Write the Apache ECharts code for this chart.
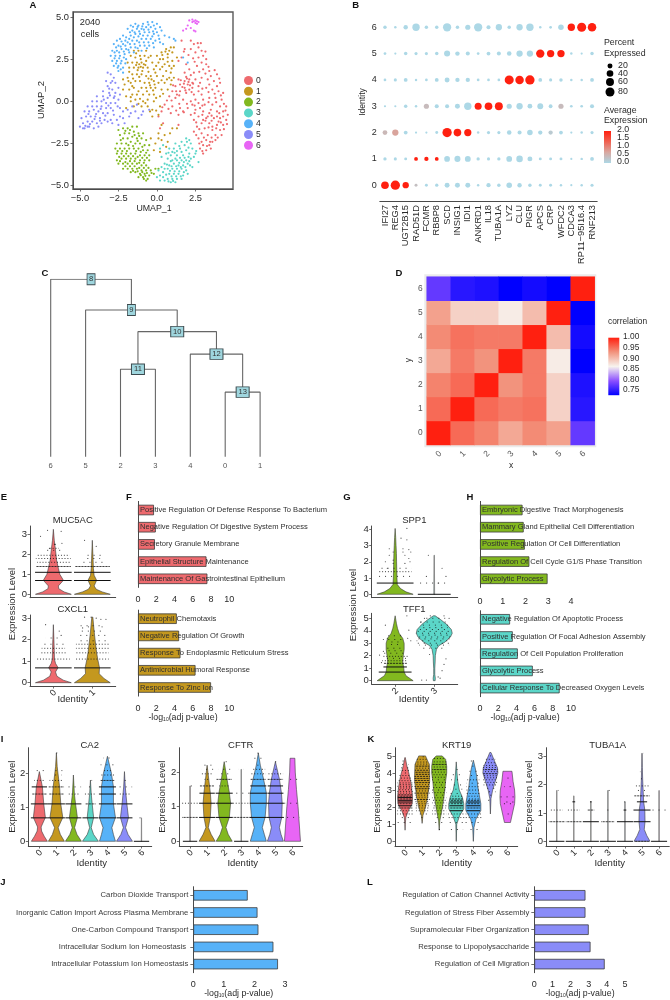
<!DOCTYPE html>
<html><head><meta charset="utf-8">
<style>html,body{margin:0;padding:0;background:#fff}#c{width:670px;height:1000px}</style>
<script src="https://cdn.jsdelivr.net/npm/echarts@6/dist/echarts.min.js"></script>
</head><body><div id="c"></div>
<script>
// ---------- palette
const clusterColors=['#ee6a6e','#c4981f','#82b81f','#5bd6c8','#57b2f8','#8a8cf8','#e865f5'];
// ---------- Panel A: UMAP (values read by eye)
const umap0=[[1.6,3.6],[2.2,3.6],[2.4,3.4],[2.7,3.2],[2.9,3.0],[2.5,2.9],[3.0,2.7],[2.7,2.6],[3.2,2.5],[2.9,2.3],[3.2,2.2],[2.6,2.1],[3.0,1.9],[1.6,2.6],[1.4,2.4],[1.9,2.2],[2.1,1.9],[2.4,1.7],[1.8,1.7],[3.5,1.5],[3.9,1.6],[3.3,1.3],[3.7,1.2],[4.1,1.1],[2.9,1.4],[2.5,1.3],[2.1,1.3],[1.8,1.2],[2.0,1.0],[1.5,1.0],[1.2,0.9],[2.3,0.8],[2.7,0.9],[3.2,0.8],[3.6,0.7],[4.0,0.6],[4.3,0.5],[1.0,0.6],[1.5,0.6],[1.9,0.5],[2.4,0.4],[2.9,0.4],[3.4,0.2],[3.8,0.2],[4.2,0.1],[0.8,0.3],[1.2,0.2],[1.7,0.1],[2.2,0],[2.7,-0.1],[3.1,-0.2],[3.6,-0.2],[4.1,-0.3],[4.5,-0.3],[0.5,-0.2],[1.0,-0.3],[1.5,-0.4],[2.0,-0.4],[2.5,-0.5],[3.0,-0.6],[3.4,-0.7],[3.9,-0.6],[4.3,-0.6],[4.6,-0.8],[0.3,-0.6],[0.9,-0.7],[1.4,-0.8],[2.2,-0.8],[2.7,-0.9],[3.2,-1],[3.7,-1],[4.1,-1.0],[4.5,-1.1],[0.1,-0.9],[2.4,-1.1],[2.9,-1.3],[3.4,-1.3],[3.9,-1.4],[4.3,-1.4],[1.4,-1.4],[2.6,-1.5],[3.1,-1.6],[3.6,-1.7],[4.1,-1.7],[2.4,-1.8],[2.9,-1.9],[3.3,-2],[3.8,-2],[4.2,-2],[2.7,-2.2],[3.2,-2.3],[3.6,-2.4],[3.0,-2.6],[3.4,-2.6],[3.8,-2.3],[2.8,-2.8],[3.2,-2.9],[3.5,-2.8],[3.0,-3.1],[0.4,-1.3],[0.2,-1.6],[2.2,3.1],[1.8,3.1],[3.4,1.8],[2.2,1.55],[2.8,1.1],[3.4,1.0],[1.4,1.3],[2.1,0.7],[3.0,0.1],[3.5,-0.5],[2.3,-0.2],[1.7,-0.6],[2.8,-0.4],[3.9,-0.9],[3.0,-1.1],[3.6,-1.5],[2.9,-2.4],[4.0,-1.2],[4.3,-0.9],[3.3,-0.9],[2.5,0.1],[1.3,0.4],[2.7,0.6],[3.9,0.9],[1.8,0.8],[1.9,1.45],[2.3,1.1],
[1.75,2.95],[2.05,2.75],[2.35,2.55],[2.85,3.45],[3.15,2.95],[3.35,2.05],[2.75,1.75],[3.15,1.65],[3.75,1.85],[4.05,1.35],[2.35,1.05],[1.65,0.85],[1.85,0.65],[1.55,1.25],[2.05,1.15],[2.15,0.95],[1.75,1.05],[1.95,1.35],[2.25,0.55],[1.45,0.35],[1.05,0.95],[2.95,0.75],[3.35,0.55],[3.75,0.45],[4.15,0.35],[0.95,0.05],[1.45,-0.15],[1.95,-0.15],[2.45,-0.25],[2.95,-0.25],[3.35,-0.05],[3.85,-0.05],[4.35,-0.15],[0.75,-0.45],[1.25,-0.55],[1.75,-0.65],[2.45,-0.7],[2.95,-0.8],[3.55,-0.85],[4.05,-0.7],[4.45,-0.55],[2.55,-1.25],[3.15,-1.15],[3.55,-1.15],[4.15,-1.25],[4.55,-1.35],[2.75,-1.65],[3.35,-1.55],[3.85,-1.6],[4.35,-1.65],[2.55,-2],[3.05,-2.15],[3.55,-2.15],[3.95,-2.15],[2.95,-2.95],[3.25,-2.65],[3.45,-2.4],[2.75,-2.5],[0.65,0.05],[0.35,-0.35],[2.65,3.45],[2.45,2.35],[1.25,0.6]];
const umap1=[[-1.5,3],[-1.2,3],[-0.7,3],[0.6,3.1],[0.9,3.2],[1.1,3.2],[0.3,2.9],[0.7,2.8],[1,2.9],[-1.7,2.7],[-1.4,2.6],[-1.1,2.7],[-0.8,2.7],[-0.4,2.7],[0,2.7],[0.4,2.5],[0.7,2.6],[1,2.4],[1.3,2.6],[-1.9,2.3],[-1.6,2.3],[-1.3,2.3],[-1,2.3],[-0.7,2.4],[-0.3,2.3],[0.1,2.3],[0.5,2.2],[0.8,2.1],[1.1,2.1],[-1.8,2],[-1.5,2],[-1.2,2],[-0.9,2],[-0.6,2],[-0.2,1.9],[0.2,1.9],[0.6,1.8],[0.9,1.7],[-2.2,1.3],[-1.9,1.4],[-1.6,1.6],[-1.3,1.6],[-1,1.6],[-0.7,1.5],[-0.4,1.5],[0,1.5],[0.4,1.5],[0.8,1.4],[1.1,1.4],[-2.1,1],[-1.7,1.1],[-1.4,1.2],[-1.1,1.2],[-0.8,1.1],[-0.5,1.1],[-0.2,1.2],[0.1,1.1],[0.5,1.1],[0.9,1],[-2.2,0.7],[-1.8,0.7],[-1.5,0.8],[-1,0.8],[-0.7,0.8],[-0.4,0.8],[-0.1,0.8],[0.3,0.7],[0.7,0.7],[-2,0.3],[-1.6,0.4],[-1.3,0.4],[-0.9,0.4],[-0.5,0.4],[-0.2,0.4],[0.2,0.3],[-1.7,0],[-1.4,0.1],[-0.9,0],[-0.6,0.1],[-0.2,0],[-2,-0.4],[-1.5,-0.3],[-1,-0.3],[-0.6,-0.3],[-0.3,-0.5],[-0.3,-0.9],[0.1,-0.8],[0.3,-1.4],[0.1,-1.9],[0.5,-2],[1,-1.6],[1.3,-1.6],[0.3,-2.3],[0.7,-2.4],[-0.2,-2.9],[0.2,-3],[-0.1,-2.5],
[-1.35,2.15],[-1.15,2.2],[-1.05,2.05],[-0.85,2.2],[-0.75,2.15],[-1.25,1.85],[-0.95,1.8],[-0.55,1.75],[-0.35,1.3],[-0.55,1.35],[-0.15,1.0],[-0.45,0.95],[-0.25,0.65],[-0.65,0.6],[-1.15,1.45],[-1.55,1.35],[-1.8,1.75],[-0.1,1.7],[0.3,1.25],[0.65,1.3],[0.95,1.25],[0.35,2.75],[0.55,2.95],[0.8,3],[0.2,2.5],[-0.05,2.1],[0.35,2.05],[0.7,2.35],[0.95,1.95],[-1.35,2.85],[-1.05,2.5],[-0.55,2.6],[-1.85,1.2],[-1.6,0.9],[-1.2,0.6],[-1.7,0.25],[-1.1,0.15],[-0.75,-0.1],[-0.05,0.2],[0.4,0.45],[-1.2,-0.15],[-0.45,-0.6],[-0.05,-0.55],[0.2,-0.3],[0.85,-1.9],[0.6,-2.7],[0.1,-2.2],[-0.4,-2.2]];
const umap2=[[-2.5,-1.7],[-2.2,-1.6],[-1.9,-1.6],[-1.6,-1.5],[-1.3,-1.5],[-2.4,-2],[-2.1,-1.9],[-1.8,-1.9],[-1.5,-1.8],[-1.2,-1.9],[-0.9,-1.9],[-2.2,-2.2],[-1.9,-2.2],[-1.6,-2.1],[-1.3,-2.2],[-1,-2.2],[-0.7,-2.3],[-2.6,-2.5],[-2.3,-2.5],[-2,-2.5],[-1.7,-2.4],[-1.4,-2.5],[-1.1,-2.5],[-0.8,-2.6],[-0.5,-2.6],[-2.7,-2.8],[-2.4,-2.8],[-2.1,-2.8],[-1.8,-2.8],[-1.5,-2.8],[-1.2,-2.8],[-0.9,-2.9],[-0.6,-2.9],[-2.6,-3.1],[-2.3,-3.1],[-2,-3.1],[-1.7,-3.1],[-1.4,-3.1],[-1.1,-3.2],[-0.8,-3.2],[-0.5,-3.2],[-2.6,-3.5],[-2.3,-3.4],[-2,-3.4],[-1.7,-3.4],[-1.4,-3.4],[-1.1,-3.5],[-0.8,-3.5],[-0.5,-3.5],[-2.5,-3.7],[-2.2,-3.7],[-1.9,-3.7],[-1.6,-3.7],[-1.3,-3.7],[-1,-3.8],[-0.7,-3.8],[-2.2,-4],[-1.9,-4],[-1.6,-4],[-1.3,-4],[-1,-4.1],[-0.7,-4.1],[-0.4,-4.1],[-0.1,-4],[-1.7,-4.2],[-1.4,-4.2],[-1.1,-4.3],[-0.8,-4.3],[-0.5,-4.4],[-0.2,-4.3],[0.1,-4],[-1.2,-4.5],[-0.9,-4.5],[-0.6,-4.6],[-0.7,-4.7],
[-2.05,-1.75],[-1.75,-1.7],[-1.45,-2],[-1.15,-2.05],[-2.35,-2.3],[-1.85,-2.6],[-1.55,-2.65],[-1.25,-2.35],[-0.95,-2.7],[-2.55,-2.95],[-2.25,-2.95],[-1.95,-2.95],[-1.35,-2.95],[-1.05,-3],[-0.7,-3.05],[-2.45,-3.3],[-2.15,-3.25],[-1.85,-3.25],[-1.55,-3.25],[-1.25,-3.3],[-0.95,-3.35],[-0.65,-3.35],[-2.4,-3.55],[-2.05,-3.6],[-1.75,-3.55],[-1.45,-3.55],[-1.15,-3.65],[-0.85,-3.65],[-2.05,-3.85],[-1.75,-3.85],[-1.45,-3.85],[-1.15,-3.95],[-0.85,-3.95],[-0.55,-3.95],[-1.55,-4.12],[-1.25,-4.15],[-0.95,-4.2],[-0.65,-4.25],[-0.35,-4.25],[-1.05,-4.38],[-0.75,-4.42],[-0.85,-4.6]];
const umap3=[[1.9,-2.2],[2.1,-2.3],[1.6,-2.4],[1.2,-2.5],[1.8,-2.6],[2.2,-2.5],[0.8,-2.8],[1.1,-2.8],[1.5,-2.8],[1.9,-2.9],[2.3,-2.8],[0.2,-2.8],[0.6,-3.1],[0.9,-3.2],[1.3,-3.2],[1.7,-3.2],[2.1,-3.1],[2.5,-3.1],[0.7,-3.4],[1,-3.5],[1.3,-3.5],[1.6,-3.5],[1.9,-3.5],[2.2,-3.4],[0.5,-3.7],[0.8,-3.8],[1.1,-3.7],[1.4,-3.8],[1.7,-3.8],[2,-3.7],[2.7,-3.6],[0.3,-3.9],[0.7,-4],[1,-4],[1.3,-4],[1.6,-4],[1.9,-4.1],[2.3,-3.9],[0.1,-4.1],[0.4,-4.2],[0.8,-4.3],[1.1,-4.3],[1.4,-4.3],[1.7,-4.4],[2,-4.3],[0,-4.5],[0.4,-4.5],[0.7,-4.6],[1,-4.6],[1.3,-4.6],[1.6,-4.6],[0.2,-4.7],[0.9,-4.8],[1.2,-4.8],[0.5,-4.7],[1,-3],[1.6,-3],[0.3,-3.3],[0.4,-2.6],
[1.45,-2.65],[1.95,-2.4],[2.05,-2.75],[1.3,-2.95],[0.75,-3.05],[1.15,-3.05],[1.5,-3.35],[1.8,-3.35],[2.05,-3.3],[1.2,-3.4],[0.9,-3.55],[1.45,-3.65],[1.75,-3.6],[2.1,-3.55],[0.65,-3.75],[0.95,-3.85],[1.25,-3.85],[1.55,-3.9],[1.85,-3.9],[2.15,-3.8],[0.5,-4],[0.85,-4.12],[1.15,-4.15],[1.45,-4.15],[1.75,-4.2],[0.6,-4.35],[0.95,-4.45],[1.25,-4.45],[1.55,-4.45],[0.2,-4.4],[0.75,-4.75],[1.05,-4.72],[2.4,-3.3],[2.55,-2.95]];
const umap4=[[-1.7,4.5],[-1.4,4.6],[-1.2,4.5],[-0.9,4.6],[-0.6,4.7],[-0.3,4.7],[0,4.6],[0.2,4.4],[-1.9,4.3],[-1.6,4.2],[-1.3,4.3],[-1,4.3],[-0.7,4.4],[-0.4,4.4],[-0.1,4.3],[0.3,4.2],[0.5,3.9],[0.8,3.8],[1.1,3.7],[-2.6,3.6],[-2.2,3.9],[-2.4,3.7],[-2,3.8],[-1.7,3.9],[-1.4,4],[-1.1,4],[-0.8,4.1],[-0.5,4.1],[-0.2,4],[0.1,3.9],[-2.8,3.4],[-2.5,3.3],[-2.2,3.4],[-1.9,3.5],[-1.6,3.6],[-1.3,3.6],[-1,3.7],[-0.7,3.7],[-0.4,3.7],[-0.1,3.6],[0.2,3.5],[0.4,3.4],[-2.9,3],[-2.6,3],[-2.3,3.1],[-2,3.1],[-1.7,3.2],[-1.4,3.2],[-1.1,3.3],[-0.8,3.3],[-0.5,3.3],[-0.2,3.2],[-3,2.7],[-2.7,2.7],[-2.4,2.7],[-2.1,2.8],[-1.8,2.9],[-1.5,2.9],[-1,3],[-2.9,2.4],[-2.6,2.4],[-2.3,2.4],[-2,2.5],[-2.8,2.1],[-2.5,2.1],[-2.2,2],[-2.5,1.8],[-2.2,1.7],[1.7,2.6],[2,2.3],[1.2,3.6],
[-1.55,4.42],[-1.25,4.42],[-0.95,4.45],[-0.55,4.55],[-0.2,4.5],[-1.75,4.1],[-1.45,4.1],[-1.15,4.15],[-0.85,4.25],[-0.55,4.25],[-0.25,4.15],[0,4.1],[-2.3,3.55],[-2.05,3.6],[-1.8,3.7],[-1.5,3.8],[-1.2,3.85],[-0.9,3.9],[-0.6,3.9],[-0.3,3.85],[0.15,3.7],[-2.65,3.2],[-2.35,3.25],[-2.05,3.3],[-1.75,3.4],[-1.45,3.4],[-1.15,3.5],[-0.85,3.5],[-0.55,3.5],[-0.25,3.45],[-2.75,2.9],[-2.45,2.9],[-2.15,2.95],[-1.85,3.05],[-1.25,3.15],[-0.65,3.15],[-2.75,2.55],[-2.45,2.55],[-2.15,2.6],[-2.65,2.25],[-2.35,2.25],[-2.05,2.25],[-2.35,1.9],[-2.55,2.0]];
const umap5=[[-3.2,1.7],[-3,1.6],[-2.8,1.4],[-3.3,1.2],[-3,1.1],[-2.7,1.1],[-3.2,0.9],[-2.9,0.7],[-2.5,0.8],[-3.5,0.6],[-3.1,0.5],[-2.7,0.5],[-2.4,0.4],[-3.9,0.3],[-3.5,0.3],[-3.2,0.2],[-2.8,0.2],[-2.5,0.1],[-4.2,0],[-3.9,0],[-3.6,0],[-3.3,-0.1],[-3,-0.1],[-2.7,-0.1],[-4.5,-0.3],[-4.2,-0.3],[-3.9,-0.3],[-3.6,-0.3],[-3.3,-0.4],[-3,-0.4],[-2.4,-0.4],[-1.6,-0.3],[-1.3,-0.2],[-4.7,-0.6],[-4.4,-0.6],[-4.1,-0.5],[-3.8,-0.6],[-3.5,-0.7],[-3.2,-0.7],[-2.8,-0.8],[-2.2,-0.6],[-1.9,-0.5],[-1.4,-0.6],[-0.9,-0.6],[-0.5,-0.5],[-4.9,-1],[-4.6,-0.9],[-4.3,-0.9],[-4,-0.9],[-3.7,-1],[-3.4,-1.1],[-3,-1.1],[-2.6,-1.1],[-2.2,-1],[-1.8,-0.9],[-1.2,-1],[-4.8,-1.3],[-4.5,-1.2],[-4.2,-1.2],[-3.9,-1.3],[-3.6,-1.3],[-2.9,-1.3],[-2.5,-1.4],[-2.1,-1.3],[-5,-1.5],[-4.7,-1.6],[-4.4,-1.5],[-4.1,-1.6],[-3.8,-1.5],[-4.8,-1.6],[-4.5,-1.5],
[-4.35,-1.35],[-4.65,-1.45],[-4.05,-1.05],[-4.45,-0.75],[-3.95,-0.75],[-3.65,-0.45],[-3.35,-0.85],[-3.15,-0.25],[-2.85,-0.55],[-3.45,0.1],[-3.05,0.35],[-2.75,0.3],[-2.55,-0.3],[-3.7,-1.15],[-3.2,-1.2],[-2.4,-0.9],[-1.7,-0.7],[-1.0,-0.8],[-2.9,1.2],[-3.1,0.75]];
const umap6=[[2.1,4.8],[2.3,4.85],[2.5,4.8],[2.6,4.75],[2.7,4.7],[2.5,4.65],[2.6,4.6],[2.4,4.75],[2.3,4.7],[2,4.5],[1.9,4.3],[1.7,4.2],[2.2,4.35],[2.4,4.2],[2.5,4.15]];
const umapTicksX=[-5,-2.5,0,2.5], umapTicksY=[-5,-2.5,0,2.5,5];
// ---------- Panel B: dot plot
const dotGenes=['IFI27','REG4','UGT2B15','RAD51D','FCMR','RBBP8','SCD','INSIG1','IDI1','ANKRD1','IL18','TUBA1A','LYZ','CLU','PIGR','APCS','CRP','WFDC2','CDCA3','RP11\u221295I16.4','RNF213'];
const dotPct0=[55,85,35,5,5,7,20,20,20,3,14,8,26,15,8,5,5,3,2,3,6];
const dotPct1=[7,6,5,10,14,10,28,32,30,7,6,7,28,38,20,5,5,5,2,3,10];
const dotPct2=[18,35,10,2,2,5,85,55,48,3,6,6,16,12,26,14,14,10,2,3,6];
const dotPct3=[2,2,8,3,22,12,12,20,50,45,55,60,22,35,18,30,10,22,4,4,12];
const dotPct4=[4,6,10,3,4,10,20,14,14,4,4,4,80,70,85,10,6,8,3,3,10];
const dotPct5=[4,2,8,6,6,8,32,15,12,4,10,12,16,35,35,67,50,50,3,2,8];
const dotPct6=[8,3,15,50,8,8,65,8,22,65,12,35,8,35,50,3,4,26,50,80,70];
const dotExp0=[2,2,2,.35,0,0,0,0,0,0,0,0,0,0,0,0,0,0,0,0,0];
const dotExp1=[0,0,0,2,2,2,0,0,0,0,0,0,0,0,0,0,0,0,0,0,0];
const dotExp2=[.45,.7,0,0,0,0,2,2,2,0,0,0,0,0,0,0,.2,0,0,0,0];
const dotExp3=[0,0,0,0,.4,0,0,0,0,2,2,2,0,0,0,0,0,.4,0,0,0];
const dotExp4=[0,0,0,0,0,0,0,0,0,0,0,0,2,2,2,0,0,0,0,0,0];
const dotExp5=[0,0,0,0,0,0,0,0,0,0,0,0,0,0,0,2,2,2,0,0,0];
const dotExp6=[0,0,0,0,0,0,0,0,0,0,0,0,0,0,0,0,0,0,2,2,2];
// ---------- Panel C: dendrogram
const treeLeaves=['6','5','2','3','4','0','1'];
const treeMerges=[['13','0','1',.364],['12','4','13',.578],['11','2','3',.493],['10','11','12',.705],['9','5','10',.827],['8','6','9',1]];
// ---------- Panel D: correlation (rows y=0..6)
const corrLabels=['0','1','2','3','4','5','6'];
const corr0=[1,.955,.94,.915,.935,.92,.77];
const corr1=[.955,1,.955,.945,.95,.885,.74];
const corr2=[.94,.955,1,.93,.945,.885,.735];
const corr3=[.915,.945,.93,1,.945,.865,.72];
const corr4=[.935,.95,.945,.945,1,.9,.73];
const corr5=[.92,.885,.885,.865,.9,1,.72];
const corr6=[.77,.74,.735,.72,.73,.72,1];
// ---------- Violins: profile = [level, relative half width]; rows = [level, half width, dash style]
const vMUC5AC=[[[0,1],[.12,.6],[.28,.3],[.42,.28],[.7,.56],[1,.36],[1.3,.28],[1.7,.18],[2.2,.12],[2.7,.05],[3.25,0]],
 [[0,1],[.12,.55],[.25,.22],[.42,.1],[.7,.24],[.95,.1],[1.3,.06],[1.8,.04],[2.7,0]]];
const rMUC5AC=[[[.69,.47,0],[1.1,.47,0],[1.39,.45,1],[1.6,.42,2],[1.79,.45,2],[1.95,.42,2],[2.2,.2,3],[2.3,.14,2],[2.5,.1,3]],
 [[.69,.47,0],[1.1,.47,0],[1.39,.45,1],[1.6,.3,3],[1.79,.2,3],[1.95,.22,3]]];
const dMUC5AC=[[-.15,3.2],[.2,3.15],[-.33,2.9],[.22,2.55],[.05,2.5],[-.1,2.3],[1.1,2.4],[.8,2.7]];
const vCXCL1=[[[0,1],[.12,.55],[.3,.2],[.5,.12],[.7,.26],[.9,.12],[1.1,.06],[1.5,.05],[2,.03],[2.7,0]],
 [[0,1],[.2,.65],[.42,.38],[.7,.4],[1.1,.3],[1.4,.24],[1.8,.18],[2.4,.1],[3.05,.03]]];
const rCXCL1=[[[.69,.47,0],[1.1,.42,2],[1.39,.32,2],[1.6,.3,2],[1.79,.3,3],[2.08,.2,3]],
 [[.69,.47,0],[1.1,.42,2],[1.39,.42,2],[1.6,.42,2],[1.79,.42,2],[1.95,.4,3],[2.2,.35,3],[2.4,.3,3],[2.65,.3,3]]];
const dCXCL1=[[-.2,2.7],[.15,2.4],[.2,2.2],[.8,3.05],[.97,3.05],[1.1,3.0],[1.22,2.95],[1.35,2.95],[1.25,2.6],[.9,2.6],[.75,2.55]];
const vSPP1=[[[0,1],[.15,.6],[.35,.3],[.6,.12],[1,.1],[1.5,.09],[2,.08],[2.5,.07],[3,.05],[3.5,.03],[4.05,0]],
 [[0,.02],[2.4,.01]]];
const rSPP1=[[[.69,.47,0],[1.1,.42,3],[1.39,.42,2],[1.6,.42,3]],[[0,.42,0],[.69,.4,3]]];
const dSPP1=[[2.15,3.45],[2.3,4.05],[2.3,3.35],[2.2,2.8],[2.2,2.6],[2.35,2.75],[1.85,2.4],[1.95,2.6],[1.85,2.8],[2.4,2.6],[2.35,2.2],[1.75,2],[1.95,2.1],[2.25,2.4],[2.38,2],[1.8,1.6],[1.95,1.9],[2.25,1.9],[3.2,1.6],[3.3,1.1],[2.8,1.1],[2.85,2.4],[3.1,.69]];
const vTFF1=[[[0,1],[.15,.85],[.4,.6],[.7,.5],[1,.48],[1.5,.42],[2,.45],[2.5,.5],[3,.5],[3.4,.42],[3.8,.22],[4.2,.13],[4.6,.07],[5.2,0]],
 [[0,.05],[.2,.06],[.5,.03],[1,.03],[1.5,.05],[2,.06],[2.5,.12],[2.8,.25],[3.1,.6],[3.5,.9],[3.8,1],[4.1,.95],[4.5,.7],[4.9,.35],[5.2,.05]]];
const rTFF1=[[[.69,.42,0],[1.1,.3,0],[1.39,.3,1],[1.6,.33,2],[1.79,.28,3],[1.95,.32,2],[2.2,.32,3],[2.4,.2,3],[2.6,.22,3],[2.9,.2,3],[3.1,.18,3],[3.3,.25,3],[3.6,.18,3]],
 [[2.6,.3,3],[2.85,.38,3],[3,.42,3],[3.2,.45,3],[3.35,.43,3],[3.5,.45,3],[3.65,.4,3],[3.8,.45,3],[3.95,.42,3],[4.1,.4,3],[4.25,.35,3],[4.45,.35,3],[4.7,.35,3],[5,.28,3]]];
const dTFF1=[[1.6,2.05],[1.65,1.45],[1.75,4.45],[1.8,3.4],[1.7,3.3],[2.35,4.05],[2.4,3.2],[2.3,5.2],[2.32,3.4],[1.7,2.35],[2.75,5],[2.65,4.7],[3.25,5.2],[2.9,5.2],[3.38,5],[2.68,.05],[2.8,.05],[3.1,.3],[3.2,.8],[3.25,1.3],[3.3,1.75],[2.88,2.1],[3.15,.2]];
const vCA2=[[[0,1],[.15,.6],[.3,.28],[.42,.22],[.7,.75],[1.1,.55],[1.6,.38],[2.05,0]],[[0,1],[.2,.5],[.4,.22],[.7,.8],[1.1,.55],[1.6,.4],[2.2,.1],[2.6,0]],[[0,1],[.2,.45],[.4,.15],[.7,.5],[1.1,.27],[1.4,.12],[1.95,0]],[[0,1],[.2,.4],[.4,.1],[.7,.4],[1.1,.22],[1.4,.1],[1.8,0]],[[0,1],[.2,.75],[.4,.55],[.7,1],[1.1,.75],[1.6,.75],[2,.5],[2.5,0]],[[0,1],[.2,.45],[.4,.14],[.7,.5],[1.1,.3],[1.6,.1],[2.05,0]],[[0,.02],[.69,.01]]];
const rCA2=[[[.69,.5,0],[1.1,.5,0],[1.39,.45,1],[1.6,.45,0],[1.79,.3,2],[1.95,.1,3],[2.08,.45,3]],
 [[.69,.5,0],[1.1,.5,0],[1.39,.45,1],[1.6,.45,1],[1.79,.4,2],[1.95,.3,3],[2.08,.35,3],[2.6,.05,3]],
 [[.69,.47,0],[1.1,.47,0],[1.39,.3,2],[1.6,.45,3],[1.95,.05,3]],
 [[.69,.47,0],[1.1,.3,1],[1.39,.35,2],[1.6,.25,3],[1.79,.1,3]],
 [[.69,.5,0],[1.1,.5,0],[1.39,.5,0],[1.6,.5,0],[1.79,.4,1],[1.95,.4,2],[2.08,.3,2],[2.25,.4,3],[2.45,.25,3]],
 [[.69,.47,0],[1.1,.47,0],[1.39,.3,2],[1.6,.45,3],[1.79,.15,3],[1.95,.05,3]],
 [[0,.45,0],[.69,.2,3]]];
const vCFTR=[[[0,.01],[1.6,.01]],[[0,1],[.2,.5],[.4,.15],[.7,.4],[1.1,.5],[1.4,.4],[1.8,.2],[2.2,0]],[[0,1],[.2,.5],[.4,.22],[.7,.65],[1.1,.8],[1.4,.65],[1.8,.35],[2.3,0]],[[0,.01],[2.08,.01]],[[0,1],[.2,.75],[.4,.5],[.7,.85],[1.1,1],[1.4,1],[1.8,.65],[2.2,.25],[2.55,0]],[[0,1],[.2,.7],[.4,.5],[.7,.8],[1.1,.85],[1.4,.75],[1.8,.5],[2.3,0]],[[0,1],[.5,.85],[1,.7],[1.5,.5],[2,.35],[2.4,.3]]];
const rCFTR=[[[0,.42,0],[.69,.47,1],[1.1,.47,2],[1.6,.12,3]],
 [[.69,.47,0],[1.1,.47,0],[1.39,.45,0],[1.6,.42,1],[1.79,.15,2],[1.95,.35,2],[2.08,.35,3],[2.2,.25,3]],
 [[.69,.5,0],[1.1,.5,0],[1.39,.5,0],[1.6,.3,2],[1.79,.45,1],[1.95,.4,3],[2.08,.35,3],[2.3,.2,3]],
 [[0,.42,0],[.69,.5,1],[1.1,.5,2],[1.39,.5,3],[2.08,.15,3]],
 [[.69,.5,0],[1.1,.5,0],[1.39,.5,0],[1.6,.47,0],[1.79,.45,1],[1.95,.45,2],[2.08,.4,2],[2.2,.15,3],[2.4,.3,3],[2.55,.2,3]],
 [[.69,.5,0],[1.1,.5,0],[1.39,.47,0],[1.6,.45,0],[1.79,.45,1],[1.95,.45,2],[2.08,.3,3],[2.3,.3,3]],
 [[.69,.4,3],[1.1,.5,3],[1.79,.3,3]]];
const vKRT19=[[[.65,0],[1,.03],[1.4,.1],[1.8,.45],[2.2,.95],[2.6,1],[3,.9],[3.5,.75],[4,.5],[4.4,.25],[4.9,.03]],
 [[1.05,0],[1.5,.1],[2,.45],[2.5,.7],[3,.85],[3.5,1],[4,1],[4.5,.95],[5,.45]],
 [[.65,0],[1.2,.08],[1.8,.35],[2.5,.6],[3,.75],[3.5,.85],[4,1],[4.4,1],[4.8,.85],[5,.4]],
 [[0,.01],[1,.06],[1.5,.45],[1.9,1],[2.2,1],[2.6,.8],[3,.4],[3.5,.2],[4,.1],[4.65,0]],
 [[0,.01],[.8,.08],[1.3,.35],[1.8,1],[2.2,1],[2.7,.8],[3.2,.6],[3.8,.45],[4.3,.25],[4.75,0]],
 [[1.6,0],[2.5,.08],[3,.3],[3.5,.65],[4,1],[4.3,.95],[4.7,.55],[5.2,.08]],
 [[1.1,.4],[1.6,.65],[2.2,.95],[2.6,1],[3,.95],[3.5,.75],[4.1,.6]]];
const rKRT19=[[[1.1,.45,3],[1.39,.4,3],[1.6,.45,2],[1.79,.45,2],[1.95,.45,1],[2.08,.42,0],[2.2,.42,1],[2.3,.42,0],[2.4,.42,0],[2.48,.42,1],[2.56,.42,0],[2.64,.42,1],[2.72,.42,1],[2.82,.42,2],[2.92,.45,2],[3.02,.45,2],[3.12,.42,2],[3.22,.45,2],[3.32,.42,2],[3.42,.45,2],[3.55,.4,2],[3.7,.35,2],[3.85,.35,2],[4,.3,3],[4.15,.3,2],[4.3,.28,3],[4.5,.2,3],[4.7,.15,3]],
 [[1.39,.25,3],[1.6,.3,3],[1.79,.35,2],[1.95,.42,2],[2.08,.45,2],[2.2,.45,2],[2.32,.45,2],[2.45,.45,1],[2.58,.45,2],[2.7,.45,2],[2.82,.45,1],[2.95,.45,2],[3.08,.45,1],[3.2,.45,1],[3.32,.45,2],[3.44,.45,1],[3.56,.45,1],[3.68,.45,1],[3.8,.45,1],[3.92,.42,1],[4.04,.42,1],[4.16,.42,1],[4.28,.42,2],[4.4,.42,1],[4.52,.42,2],[4.64,.4,2],[4.8,.33,2],[4.95,.25,3]],
 [[.69,.1,3],[1.1,.25,3],[1.39,.35,3],[1.6,.42,2],[1.79,.42,2],[1.95,.38,2],[2.08,.42,2],[2.25,.42,2],[2.4,.42,2],[2.55,.42,2],[2.7,.42,3],[2.85,.42,2],[3,.42,3],[3.15,.42,2],[3.3,.42,3],[3.45,.42,2],[3.6,.42,3],[3.75,.42,2],[3.9,.42,2],[4.05,.42,2],[4.2,.42,1],[4.35,.42,2],[4.5,.42,1],[4.65,.42,2],[4.85,.38,2]],
 [[.69,.4,3],[1.1,.4,3],[1.39,.47,2],[1.6,.47,2],[1.79,.4,0],[1.95,.4,1],[2.08,.4,0],[2.2,.4,1],[2.3,.38,0],[2.4,.38,1],[2.48,.38,1],[2.64,.35,2],[2.8,.35,3],[3.05,.35,3],[3.3,.3,3],[3.6,.3,3],[3.9,.3,3],[4.2,.25,3],[4.6,.1,3]],
 [[.69,.25,3],[1.1,.47,3],[1.39,.47,2],[1.6,.45,2],[1.79,.4,0],[1.95,.4,1],[2.08,.4,0],[2.2,.4,1],[2.3,.38,0],[2.4,.38,1],[2.48,.38,2],[2.64,.4,2],[2.8,.4,2],[3,.4,2],[3.2,.4,2],[3.4,.4,3],[3.6,.35,2],[3.85,.35,3],[4.1,.3,3],[4.4,.3,3],[4.7,.15,3]],
 [[2.4,.2,3],[2.7,.25,3],[2.9,.3,3],[3.1,.38,3],[3.3,.4,2],[3.45,.42,2],[3.6,.42,2],[3.72,.42,2],[3.84,.42,2],[3.96,.42,1],[4.08,.42,2],[4.2,.42,1],[4.32,.42,2],[4.44,.4,2],[4.6,.35,2],[4.8,.28,2],[5,.2,3]],
 [[1.6,.15,3],[2.2,.3,3],[2.6,.45,3],[3.2,.2,3],[2.3,.35,3],[3.7,.12,3]]];
const vTUBA1A=[[[0,.01],[1.79,.01]],[[0,.01],[1.6,.01]],[[0,.01],[1.39,.01]],[[0,.01],[1.79,.01]],[[0,.01],[1.39,.01]],[[0,1],[.2,.6],[.42,.28],[.7,.38],[1.1,.35],[1.4,.2],[1.8,.14],[2.2,.08],[2.6,.04],[3.1,.01]],[[0,.01],[1.79,.01]]];
const rTUBA1A=[[[0,.45,0],[.69,.47,1],[1.1,.35,2],[1.79,.1,3]],
 [[0,.47,0],[.69,.47,1],[1.1,.35,2],[1.39,.08,0],[1.6,.08,3]],
 [[0,.47,0],[.69,.47,0],[1.1,.2,1],[1.39,.05,0]],
 [[0,.47,0],[.69,.4,1],[1.1,.05,3],[1.79,.12,3]],
 [[0,.47,0],[.69,.47,0],[1.1,.08,0],[1.39,.25,3]],
 [[0,.4,1],[.69,.5,0],[1.1,.5,0],[1.39,.3,0],[1.6,.45,1],[1.79,.4,3],[1.95,.4,2],[2.2,.15,3],[2.45,.12,3],[3.1,.1,3]],
 [[0,.47,0],[1.1,.4,3],[1.79,.05,3]]];
// ---------- Bars
const fTopNames=['Positive Regulation Of Defense Response To Bacterium','Negative Regulation Of Digestive System Process','Secretory Granule Membrane','Epithelial Structure Maintenance','Maintenance Of Gastrointestinal Epithelium'];
const fTopVals=[1.75,1.95,1.85,7.5,7.6];
const fBotNames=['Neutrophil Chemotaxis','Negative Regulation Of Growth','Response To Endoplasmic Reticulum Stress','Antimicrobial Humoral Response','Response To Zinc Ion'];
const fBotVals=[4.25,4.5,4.65,6.3,8.0];
const hTopNames=['Embryonic Digestive Tract Morphogenesis','Mammary Gland Epithelial Cell Differentiation','Positive Regulation Of Cell Differentiation','Regulation Of Cell Cycle G1/S Phase Transition','Glycolytic Process'];
const hTopVals=[1.87,1.92,1.97,2.17,2.97];
const hBotNames=['Negative Regulation Of Apoptotic Process','Positive Regulation Of Focal Adhesion Assembly','Regulation Of Cell Population Proliferation','Glycolytic Process','Cellular Response To Decreased Oxygen Levels'];
const hBotVals=[3.3,3.6,4.15,5.8,8.75];
const jNames=['Carbon Dioxide Transport','Inorganic Cation Import Across Plasma Membrane','One-Carbon Compound Transport','Intracellular Sodium Ion Homeostasis ','Intracellular Potassium Ion Homeostasis'];
const jVals=[1.78,2.1,2.13,2.62,2.77];
const lNames=['Regulation of Cation Channel Activity','Regulation of Stress Fiber Assembly','Supramolecular Fiber Organization','Response to Lipopolysaccharide','Regulation of Cell Migration'];
const lVals=[2.82,2.82,3.0,3.1,3.88];

// ---------- builders
const FONT='"Liberation Sans",Arial,sans-serif', INK='#2a2a2a', AXC='#4a4a4a';
const grids=[],xAxes=[],yAxes=[],series=[],graphics=[];
function addGrid(left,top,width,height,xa,ya,extra){
  const idx=grids.length;
  grids.push(Object.assign({left,top,width,height,containLabel:false},extra||{}));
  xAxes.push(Object.assign({gridIndex:idx,splitLine:{show:false},axisLine:{onZero:false,lineStyle:{color:AXC,width:1}},axisTick:{length:2.5,lineStyle:{color:AXC,width:.8}}},xa));
  yAxes.push(Object.assign({gridIndex:idx,splitLine:{show:false},axisLine:{onZero:false,lineStyle:{color:AXC,width:1}},axisTick:{length:2.5,lineStyle:{color:AXC,width:.8}}},ya));
  return idx;
}
function numAxis(min,max,ticks,fs,fmt,margin){
  const o={type:'value',min,max,axisLabel:{customValues:ticks,fontFamily:FONT,fontSize:fs,color:INK,margin:margin==null?3:margin,hideOverlap:false,showMinLabel:true,showMaxLabel:true},axisTick:{customValues:ticks,length:2.5,lineStyle:{color:AXC,width:.8}}};
  if(fmt)o.axisLabel.formatter=fmt;
  return o;
}
function txt(x,y,s,o){o=o||{};
  graphics.push({type:'text',x,y,rotation:o.rot||0,z:50,silent:true,style:{text:s,fontFamily:FONT,fontSize:o.fs||9.5,fontWeight:o.bold?'bold':'normal',fill:o.color||INK,align:o.align||'center',verticalAlign:'middle',lineHeight:o.lh,rich:o.rich}});
}
const DASH=[null,[2.2,.8],[1,1.9],[1,5]];
function violinPanel(p){
  const g=addGrid(p.left,p.top,p.width,p.height,
    numAxis(p.xmin,p.xmax,p.ids,9,null,7),
    numAxis(p.ymin,p.ymax,p.yticks,9.5));
  Object.assign(xAxes[g].axisLabel,{rotate:45,align:'center',verticalAlign:'middle'});
  series.push({type:'custom',name:'violin '+p.title,xAxisIndex:g,yAxisIndex:g,clip:false,silent:true,
    data:p.ids.map(v=>[v]),encode:{x:0},
    renderItem:(params,api)=>{
      const i=params.dataIndex,cx=api.value(0),prof=p.profiles[i],W=p.W||.46;
      const L=prof.map(q=>api.coord([cx-q[1]*W,q[0]]));
      const R=prof.map(q=>api.coord([cx+q[1]*W,q[0]])).reverse();
      const kids=[{type:'polygon',shape:{points:L.concat(R)},style:{fill:clusterColors[cx],stroke:prof.length<3?'#8a8a8a':'#3a3a3a',lineWidth:prof.length<3?1:.6}}];
      p.rows[i].forEach(r=>{
        const a=api.coord([cx-r[1],r[0]]),b=api.coord([cx+r[1],r[0]]);
        kids.push({type:'line',shape:{x1:a[0],y1:a[1],x2:b[0],y2:b[1]},style:{stroke:'#111',lineWidth:r[2]===0?1:.8,lineDash:DASH[r[2]],lineDashOffset:(r[0]*37)%7}});
      });
      return {type:'group',children:kids};
    }});
  if(p.dots)series.push({type:'scatter',name:'dots '+p.title,xAxisIndex:g,yAxisIndex:g,data:p.dots,symbolSize:1.2,silent:true,itemStyle:{color:'#222'},clip:false});
  txt(p.titleX,p.titleY,p.title,{fs:9.5});
}
function barPanel(p){
  const outside=!!p.outside;
  const g=addGrid(p.left,p.firstY-8.6,p.width,p.names.length*17.2,
    numAxis(0,p.xmax,p.xticks,9,null,p.labelMargin==null?4:p.labelMargin),
    {type:'category',inverse:true,data:p.names,axisLabel:{show:outside,fontFamily:FONT,fontSize:p.fs||7.7,color:'#3a3a3a',margin:5},axisTick:{show:outside,alignWithLabel:true,length:3,lineStyle:{color:AXC,width:.8}}});
  xAxes[g].offset=p.offset==null?3.5:p.offset;
  series.push({type:'bar',name:'bars '+p.names[0],xAxisIndex:g,yAxisIndex:g,data:p.vals,barWidth:10.5,silent:true,
    itemStyle:{color:p.color,borderColor:'#3c3c3c',borderWidth:.8},
    label:outside?{show:false}:{show:true,position:'insideLeft',distance:2,formatter:'{b}',fontFamily:FONT,fontSize:7.55,color:'#2f2f2f'}});
}
function logName(x,y){
  txt(x,y,'-log{s|10}(adj p-value)',{fs:8.8,rich:{s:{fontSize:5,fontFamily:FONT,fill:INK,verticalAlign:'bottom'}}});
}
// ---- A
const gA=addGrid(73,12,160,177,
  numAxis(-5.45,4.94,umapTicksX,9.3,v=>v.toFixed(1).replace('-','\u2212'),5),
  numAxis(-5.2,5.3,umapTicksY,9.3,v=>v.toFixed(1).replace('-','\u2212'),4),
  {show:true,borderColor:'#5a5a5a',borderWidth:1.4});
[umap0,umap1,umap2,umap3,umap4,umap5,umap6].forEach((d,i)=>{
  series.push({type:'scatter',name:String(i),xAxisIndex:gA,yAxisIndex:gA,data:d,symbolSize:2.2,itemStyle:{color:clusterColors[i],opacity:1},silent:true});
});
txt(90,22,'2040',{fs:9.2});txt(90,34,'cells',{fs:9.2});
txt(154,209,'UMAP_1',{fs:8.8});txt(41,100,'UMAP_2',{fs:9.5,rot:Math.PI/2});
// ---- B
const gB=addGrid(379.8,12,217.4,189,
  {type:'category',data:dotGenes,axisLabel:{rotate:90,fontFamily:FONT,fontSize:9.3,color:INK,margin:4,interval:0},axisTick:{length:3,alignWithLabel:true,lineStyle:{color:AXC,width:.8}},axisLine:{onZero:false,lineStyle:{color:AXC,width:1}}},
  numAxis(-.6,6.58,[0,1,2,3,4,5,6],9));
const dotData=[];
[[dotPct0,dotExp0],[dotPct1,dotExp1],[dotPct2,dotExp2],[dotPct3,dotExp3],[dotPct4,dotExp4],[dotPct5,dotExp5],[dotPct6,dotExp6]].forEach((row,y)=>row[0].forEach((p,x)=>dotData.push([x,y,p,row[1][x]])));
const dotSize=p=>.9+8.4*Math.sqrt(p/85);
const idxB=series.length;
series.push({type:'scatter',name:'dotplot',xAxisIndex:gB,yAxisIndex:gB,data:dotData,symbolSize:v=>dotSize(v[2]),silent:true,itemStyle:{opacity:1}});
txt(363,102,'Identity',{fs:8.6,rot:Math.PI/2});
txt(604,43,'Percent',{fs:8.8,align:'left'});txt(604,54,'Expressed',{fs:8.8,align:'left'});
[[20,66],[40,73.5],[60,82],[80,92]].forEach(a=>{
  graphics.push({type:'circle',z:50,silent:true,shape:{cx:610,cy:a[1],r:dotSize(a[0])/2},style:{fill:'#000'}});
  txt(618,a[1],String(a[0]),{fs:8.8,align:'left'});
});
txt(604,110.5,'Average',{fs:8.8,align:'left'});txt(604,121,'Expression',{fs:8.8,align:'left'});
const expStops=['#ff2010','#f06050','#d8a8a0','#add8e6'];
graphics.push({type:'rect',z:50,silent:true,shape:{x:604,y:131,width:7,height:32},style:{fill:new echarts.graphic.LinearGradient(0,0,0,1,expStops.map((c,i)=>({offset:i/3,color:c})))}});
[['2.0',130],['1.5',138],['1.0',146],['0.5',154],['0.0',162]].forEach(a=>txt(617,a[1],a[0],{fs:8.8,align:'left'}));
// ---- C
const gC=addGrid(50.7,279.3,209.4,177.4,
  numAxis(0,6,[0,1,2,3,4,5,6],7.6,v=>treeLeaves[v],5),
  {type:'value',min:0,max:1,axisLabel:{show:false},axisLine:{show:false},axisTick:{show:false}});
xAxes[gC].axisLine={show:false};xAxes[gC].axisTick={show:false};xAxes[gC].axisLabel.color='#555';
const pos={};treeLeaves.forEach((n,i)=>pos[n]=[i,0]);
const nodeData=[];
treeMerges.forEach(m=>{
  const a=pos[m[1]],b=pos[m[2]],h=m[3];
  pos[m[0]]=[(a[0]+b[0])/2,h];
  series.push({type:'line',name:'merge '+m[0],xAxisIndex:gC,yAxisIndex:gC,data:[[a[0],a[1]],[a[0],h],[b[0],h],[b[0],b[1]]],symbol:'none',silent:true,lineStyle:{color:'#666',width:1.1}});
  nodeData.push({value:[pos[m[0]][0],h],name:m[0],symbolSize:m[0].length>1?[13,10.5]:[8,11]});
});
series.push({type:'scatter',name:'nodes',xAxisIndex:gC,yAxisIndex:gC,data:nodeData,symbol:'rect',silent:true,z:5,itemStyle:{color:'#9fd6de',borderColor:'#3c4a4e',borderWidth:.9,opacity:1},label:{show:true,position:'inside',formatter:'{b}',fontFamily:FONT,fontSize:7.6,color:'#333'}});
// ---- D
graphics.push({type:'rect',z:-1,silent:true,shape:{x:424.3,y:274.2,width:172,height:173},style:{fill:'#ebebeb'}});
const gD=addGrid(426.7,276.7,168,168.3,
  {type:'category',data:corrLabels,axisLine:{show:false},axisTick:{length:2,lineStyle:{color:'#555',width:.8}},axisLabel:{rotate:45,align:'center',verticalAlign:'middle',fontFamily:FONT,fontSize:8.4,color:'#555',margin:9}},
  {type:'category',data:corrLabels,axisLine:{show:false},axisTick:{length:2,lineStyle:{color:'#555',width:.8}},axisLabel:{fontFamily:FONT,fontSize:8.4,color:'#555',margin:4}});
const corrData=[];
[corr0,corr1,corr2,corr3,corr4,corr5,corr6].forEach((r,y)=>r.forEach((v,x)=>corrData.push([x,y,v])));
const idxD=series.length;
series.push({type:'heatmap',name:'correlation',xAxisIndex:gD,yAxisIndex:gD,data:corrData,silent:true,progressive:0,emphasis:{disabled:true}});
txt(511,465.5,'x',{fs:8.5});txt(409,360,'y',{fs:8.5,rot:Math.PI/2});
txt(608,321.5,'correlation',{fs:8.4,align:'left'});
const corrStops=['#ff2010','#f2937d','#f7f3ee','#8c50ff','#0000ff'];
graphics.push({type:'rect',z:50,silent:true,shape:{x:608.3,y:337.7,width:11,height:57.5},style:{fill:new echarts.graphic.LinearGradient(0,0,0,1,corrStops.map((c,i)=>({offset:i/4,color:c})))}});
[['1.00',337],['0.95',347.6],['0.90',358.2],['0.85',368.8],['0.80',379.4],['0.75',390]].forEach(a=>txt(623,a[1],a[0],{fs:8.4,align:'left'}));
// ---- E
violinPanel({title:'MUC5AC',titleX:72.7,titleY:520,left:30,top:526,width:85.7,height:71.7,xmin:-.6,xmax:1.6,ids:[0,1],ymin:-.17,ymax:3.415,yticks:[0,1,2,3],profiles:vMUC5AC,rows:rMUC5AC,dots:dMUC5AC});
xAxes[grids.length-1].axisLabel.show=false;xAxes[grids.length-1].axisTick.show=false;
violinPanel({title:'CXCL1',titleX:72.7,titleY:609,left:30,top:615,width:85.7,height:71,xmin:-.6,xmax:1.6,ids:[0,1],ymin:-.153,ymax:3.15,yticks:[0,1,2,3],profiles:vCXCL1,rows:rCXCL1,dots:dCXCL1});
txt(72.7,699.5,'Identity',{fs:9.5});txt(12,604,'Expression Level',{fs:9.5,rot:Math.PI/2});
// ---- F
barPanel({left:138,width:91.3,firstY:510,names:fTopNames,vals:fTopVals,color:clusterColors[0],xmax:10,xticks:[0,2,4,6,8,10],labelMargin:4.5});
barPanel({left:138,width:91.3,firstY:618.7,names:fBotNames,vals:fBotVals,color:clusterColors[1],xmax:10,xticks:[0,2,4,6,8,10]});
logName(183,717.5);
// ---- G
violinPanel({title:'SPP1',titleX:414.3,titleY:520,left:371.7,top:526,width:86,height:71.7,xmin:1.4,xmax:3.6,ids:[2,3],ymin:-.21,ymax:4.2,yticks:[0,1,2,3,4],profiles:vSPP1,rows:rSPP1,dots:dSPP1});
xAxes[grids.length-1].axisLabel.show=false;xAxes[grids.length-1].axisTick.show=false;
violinPanel({title:'TFF1',titleX:414.3,titleY:609,left:371.7,top:613.3,width:86,height:71,xmin:1.4,xmax:3.6,ids:[2,3],ymin:-.29,ymax:5.4,yticks:[0,1,2,3,4,5],profiles:vTFF1,rows:rTFF1,dots:dTFF1});
txt(414,699.5,'Identity',{fs:9.5});txt(353,605,'Expression Level',{fs:9.5,rot:Math.PI/2});
// ---- H
barPanel({left:480,width:91,firstY:510,names:hTopNames,vals:hTopVals,color:clusterColors[2],xmax:4,xticks:[0,1,2,3,4],labelMargin:6});
barPanel({left:480,width:91,firstY:619.3,names:hBotNames,vals:hBotVals,color:clusterColors[3],xmax:10,xticks:[0,2,4,6,8,10]});
logName(525,717.5);
// ---- I / K
const seven=[0,1,2,3,4,5,6];
violinPanel({title:'CA2',titleX:89.7,titleY:745,left:28.3,top:747.7,width:123.4,height:98.3,xmin:-.65,xmax:6.6,ids:seven,ymin:-.138,ymax:2.753,yticks:[0,1,2],profiles:vCA2,rows:rCA2,W:.47});
txt(91.7,863.3,'Identity',{fs:9.5});txt(12,796.7,'Expression Level',{fs:9.5,rot:Math.PI/2});
violinPanel({title:'CFTR',titleX:240.7,titleY:745,left:179.3,top:747.7,width:123.4,height:98.3,xmin:-.63,xmax:6.6,ids:seven,ymin:-.136,ymax:2.705,yticks:[0,1,2],profiles:vCFTR,rows:rCFTR,W:.47});
txt(242.7,863.3,'Identity',{fs:9.5});txt(162.7,796.7,'Expression Level',{fs:9.5,rot:Math.PI/2});
violinPanel({title:'KRT19',titleX:456.7,titleY:745,left:395,top:747.7,width:122.7,height:98.3,xmin:-.59,xmax:6.6,ids:seven,ymin:-.275,ymax:5.48,yticks:[0,1,2,3,4,5],profiles:vKRT19,rows:rKRT19,W:.44});
txt(456.7,863.3,'Identity',{fs:9.5});txt(377.7,796.7,'Expression Level',{fs:9.5,rot:Math.PI/2});
violinPanel({title:'TUBA1A',titleX:607.7,titleY:745,left:546,top:747.7,width:123.3,height:98.3,xmin:-.63,xmax:6.6,ids:seven,ymin:-.165,ymax:3.295,yticks:[0,1,2,3],profiles:vTUBA1A,rows:rTUBA1A,W:.47});
txt(609.7,863.3,'Identity',{fs:9.5});txt(529,796.7,'Expression Level',{fs:9.5,rot:Math.PI/2});
// ---- J / L
barPanel({left:193.3,width:91.7,firstY:895.3,names:jNames,vals:jVals,color:clusterColors[4],xmax:3,xticks:[0,1,2,3],outside:true,offset:3.5});
logName(238.7,994);
barPanel({left:534.3,width:90.7,firstY:895.3,names:lNames,vals:lVals,color:clusterColors[5],xmax:5,xticks:[0,1,2,3,4,5],outside:true,offset:3.5});
logName(580,994);
// ---- panel letters
[['A',33,5],['B',355.7,5],['C',45,273],['D',399,273],['E',4,497],['F',129,497],['G',347,497],['H',470,497],['I',2,739],['J',3,882],['K',371,739],['L',370,882]].forEach(a=>txt(a[1],a[2],a[0],{fs:9.5,bold:true,color:'#111'}));

const chart=echarts.init(document.getElementById('c'),null,{renderer:'canvas',width:670,height:1000});
chart.setOption({
  animation:false,backgroundColor:'#fff',textStyle:{fontFamily:FONT},
  grid:grids,xAxis:xAxes,yAxis:yAxes,series,graphic:{elements:graphics},
  legend:{data:['0','1','2','3','4','5','6'],orient:'vertical',left:239,top:71,itemWidth:9,itemHeight:9,itemGap:1.8,icon:'circle',selectedMode:false,textStyle:{fontFamily:FONT,fontSize:8.6,color:INK,padding:[0,0,0,-2]}},
  visualMap:[
    {type:'continuous',show:false,seriesIndex:idxB,dimension:3,min:0,max:2,inRange:{color:expStops.slice().reverse()}},
    {type:'continuous',show:false,seriesIndex:idxD,dimension:2,min:.72,max:1,inRange:{color:corrStops.slice().reverse()}}
  ]
});
</script></body></html>
